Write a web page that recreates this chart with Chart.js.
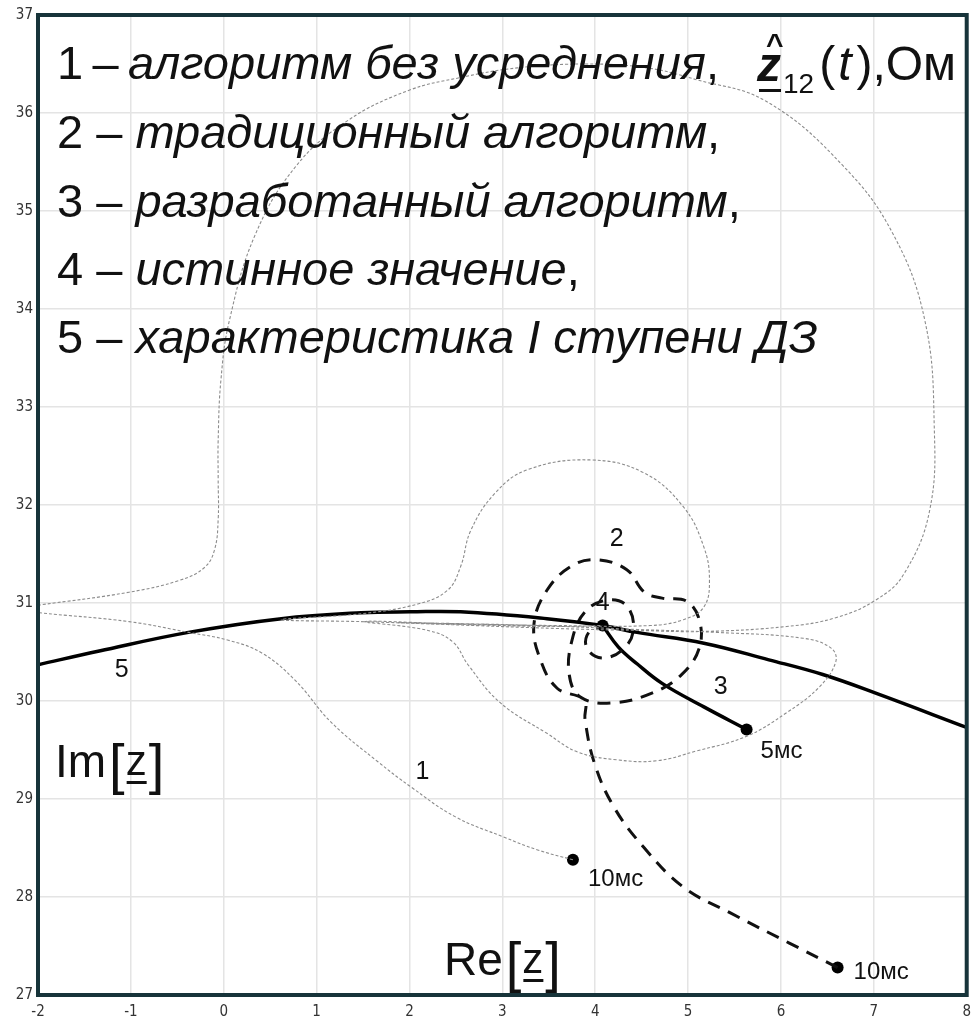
<!DOCTYPE html>
<html>
<head>
<meta charset="utf-8">
<script src="https://cdn.jsdelivr.net/npm/chart.js@4.4.1/dist/chart.umd.min.js"></script>
<style>
  html, body { margin: 0; padding: 0; background: #ffffff; }
  #wrap { position: relative; width: 979px; height: 1025px; }
</style>
</head>
<body>
<div id="wrap"><canvas id="c" width="979" height="1025"></canvas></div>
<script>
// Axis ticks (Re on x, Im on y), Ом
const xTicks = [-2, -1, 0, 1, 2, 3, 4, 5, 6, 7, 8];
const yTicks = [27, 28, 29, 30, 31, 32, 33, 34, 35, 36, 37];

// 1 – алгоритм без усреднения
const noAvgRe = [3.76, 3.38, 3.02, 2.49, 2.02, 1.66, 1.16, 0.77, 0.41, 0.05, -0.38, -1.02, -1.98, -2.30,
  -1.98, -1.02, -0.48, -0.21, -0.10, -0.06, -0.06, -0.06, -0.03, 0.06, 0.34, 0.78, 1.33, 1.99, 2.54, 3.16,
  3.91, 4.56, 5.09, 5.84, 6.67, 7.21, 7.55, 7.65, 7.60, 7.32, 7.02, 6.59, 6.06, 5.17, 4.45, 3.59, 2.41,
  1.48, 0.62,
  1.48, 2.09, 2.41, 2.55, 2.66, 2.92, 3.27, 3.94, 4.52, 4.95, 5.17, 5.23, 5.17, 4.95, 4.59, 3.59, 2.41, 1.52,
  2.20, 2.47, 2.63, 2.98, 3.48, 3.81, 4.23, 4.66, 5.09, 5.63, 6.06, 6.41, 6.59, 6.54, 6.24, 5.31, 4.45,
  3.38, 2.52, 1.88, 2.63, 3.59, 4.08];
const noAvgIm = [28.38, 28.48, 28.61, 28.82, 29.12, 29.38, 29.78, 30.21, 30.49, 30.62, 30.70, 30.81, 30.90, 30.94,
  30.98, 31.11, 31.23, 31.36, 31.54, 31.85, 32.26, 32.66, 33.28, 33.88, 34.76, 35.46, 35.92, 36.23, 36.36, 36.46,
  36.50, 36.46, 36.34, 36.12, 35.46, 34.76, 33.88, 32.82, 31.94, 31.29, 31.03, 30.85, 30.76, 30.71, 30.72, 30.74, 30.78,
  30.81, 30.83,
  30.89, 30.99, 31.13, 31.37, 31.74, 32.12, 32.36, 32.46, 32.33, 31.98, 31.57, 31.23, 30.96, 30.83, 30.77, 30.77, 30.79, 30.81,
  30.72, 30.60, 30.37, 29.98, 29.67, 29.48, 29.40, 29.39, 29.49, 29.64, 29.88, 30.14, 30.40, 30.54, 30.64, 30.70, 30.73,
  30.77, 30.79, 30.80, 30.78, 30.76, 30.77];

// 2 – традиционный алгоритм
const tradRe = [6.61, 6.09, 5.45, 4.95, 4.52, 4.20, 3.99, 3.89, 3.88,
  3.59, 3.41, 3.34, 3.48, 3.75, 4.02, 4.34, 4.53, 4.72, 4.98, 5.12, 5.12, 4.93, 4.61, 4.18, 3.84,
  3.72, 3.75, 3.89, 4.13, 4.34, 4.41, 4.29, 4.07, 3.91, 3.93, 4.08];
const tradIm = [27.28, 27.53, 27.84, 28.10, 28.51, 28.92, 29.37, 29.81, 30.01,
  30.13, 30.42, 30.78, 31.13, 31.38, 31.44, 31.34, 31.11, 31.05, 31.02, 30.83, 30.54, 30.27, 30.08, 29.98, 30.04,
  30.27, 30.62, 30.91, 31.03, 30.97, 30.72, 30.52, 30.44, 30.54, 30.70, 30.77];

// 3 – разработанный алгоритм
const devRe = [4.08, 4.25, 4.45, 4.72, 5.17, 5.63];
const devIm = [30.77, 30.55, 30.38, 30.18, 29.94, 29.71];

// 5 – характеристика I ступени ДЗ
const zoneRe = [-2.0, -1.34, -0.38, 0.62, 1.48, 2.01, 2.55, 3.48, 4.08, 4.45, 5.17, 5.87, 6.45, 7.02, 8.0];
const zoneIm = [30.37, 30.51, 30.70, 30.84, 30.90, 30.91, 30.91, 30.84, 30.77, 30.70, 30.59, 30.42, 30.27, 30.08, 29.73];

// 4 – истинное значение, and the time-stamped end points
const markRe = [4.08, 5.63, 3.76, 6.61];
const markIm = [30.77, 29.71, 28.38, 27.28];
const markText = ['', '5мс', '10мс', '10мс'];

const legendNums = ['1', '2', '3', '4', '5'];
const legendText = ['алгоритм без усреднения', 'традиционный алгоритм', 'разработанный алгоритм',
  'истинное значение', 'характеристика I ступени ДЗ'];

const pts = (xs, ys) => xs.map((x, i) => ({ x: x, y: ys[i] }));

const FONT = '"Liberation Sans", Arial, sans-serif';

// curve number labels placed next to their curves
const curveLabels = [
  { t: '1', x: 2.14, y: 29.27 },
  { t: '2', x: 4.23, y: 31.65 },
  { t: '3', x: 5.35, y: 30.14 },
  { t: '4', x: 4.08, y: 31.00 },
  { t: '5', x: -1.10, y: 30.32 }
];
const markLabelOffset = [[0, 0], [14, 22], [15, 20], [16, 5]];

const overlay = {
  id: 'overlay',
  afterDatasetsDraw(chart) {
    const { ctx, chartArea: a, scales: { x, y } } = chart;
    ctx.save();
    ctx.fillStyle = '#111';
    ctx.textBaseline = 'middle';
    ctx.textAlign = 'center';
    ctx.font = '25px ' + FONT;
    curveLabels.forEach(l => ctx.fillText(l.t, x.getPixelForValue(l.x), y.getPixelForValue(l.y)));

    ctx.textAlign = 'left';
    ctx.font = '24px ' + FONT;
    markText.forEach((t, i) => {
      if (!t) return;
      const px = x.getPixelForValue(markRe[i]) + markLabelOffset[i][0];
      const py = y.getPixelForValue(markIm[i]) + markLabelOffset[i][1];
      ctx.fillText(t, px, py);
    });

    // legend block
    ctx.textBaseline = 'alphabetic';
    const up = '47px ' + FONT, it = 'italic 47px ' + FONT;
    const base = [79, 148, 217, 285, 353];
    legendNums.forEach((n, i) => {
      let cx = 57;
      const runs = [[n, up], [i === 0 ? '\u2009–\u2009' : ' – ', up], [legendText[i], it]];
      if (i < 4) runs.push([',', up]);
      runs.forEach(([s, f]) => { ctx.font = f; ctx.fillText(s, cx, base[i]); cx += ctx.measureText(s).width; });
    });

    // ẑ12(t), Ом
    let cx = 757;
    ctx.font = 'italic bold 48px ' + FONT;
    ctx.fillText('z', cx, 81);
    const zw = ctx.measureText('z').width;
    ctx.font = 'bold 30px ' + FONT;
    ctx.fillText('^', cx + 9, 54);
    ctx.fillRect(cx + 2, 89, zw - 2, 3);
    cx += zw + 2;
    ctx.font = '28px ' + FONT;
    ctx.fillText('12', cx, 93);
    cx += ctx.measureText('12').width + 5;
    ctx.font = '48px ' + FONT;
    ctx.fillText('(', cx, 80); cx += ctx.measureText('(').width + 3;
    ctx.font = 'italic 48px ' + FONT;
    ctx.fillText('t', cx, 80); cx += ctx.measureText('t').width + 5;
    ctx.font = '48px ' + FONT;
    ctx.fillText('),Ом', cx, 80);

    // axis captions Im[z], Re[z]
    const caption = (name, x0, yb) => {
      let c = x0;
      ctx.font = '46px ' + FONT;
      ctx.fillText(name, c, yb); c += ctx.measureText(name).width + 3;
      ctx.font = '300 56px ' + FONT;
      ctx.fillText('[', c, yb + 6); c += ctx.measureText('[').width + 1;
      ctx.font = '42px ' + FONT;
      ctx.fillText('z', c, yb - 2);
      const w = ctx.measureText('z').width;
      ctx.fillRect(c + 1, yb + 4, w - 1, 3);
      c += w + 2;
      ctx.font = '300 56px ' + FONT;
      ctx.fillText(']', c, yb + 6);
    };
    caption('Im', 55, 777);
    caption('Re', 444, 975);

    // frame
    ctx.strokeStyle = '#17343a';
    ctx.lineWidth = 4;
    ctx.strokeRect(a.left, a.top, a.right - a.left, a.bottom - a.top);
    ctx.restore();
  }
};

new Chart(document.getElementById('c'), {
  type: 'scatter',
  data: {
    datasets: [
      { data: pts(noAvgRe, noAvgIm), showLine: true, borderColor: '#8c8c8c', borderWidth: 1.1,
        borderDash: [3, 2], tension: 0.4, pointRadius: 0 },
      { data: pts(zoneRe, zoneIm), showLine: true, borderColor: '#000', borderWidth: 3.5,
        tension: 0.4, pointRadius: 0 },
      { data: pts(tradRe, tradIm), showLine: true, borderColor: '#111', borderWidth: 3,
        borderDash: [13, 9], tension: 0.4, pointRadius: 0 },
      { data: pts(devRe, devIm), showLine: true, borderColor: '#000', borderWidth: 3.5,
        tension: 0.4, pointRadius: 0 },
      { data: pts(markRe, markIm), showLine: false, pointRadius: 6, pointBackgroundColor: '#000',
        pointBorderColor: '#000', pointBorderWidth: 0 }
    ]
  },
  options: {
    responsive: false,
    animation: false,
    devicePixelRatio: 1,
    layout: { padding: { top: 15, right: 8, left: 0, bottom: 0 } },
    plugins: { legend: { display: false }, tooltip: { enabled: false } },
    scales: {
      x: {
        type: 'linear', min: -2, max: 8,
        afterBuildTicks: s => { s.ticks = xTicks.map(v => ({ value: v })); },
        afterFit: s => { s.height = 30; },
        grid: { color: '#e4e4e4', lineWidth: 1.5, drawTicks: false },
        border: { display: false },
        ticks: { padding: 8, color: '#333', font: { family: '"Liberation Sans Narrow", "DejaVu Sans Condensed", sans-serif', size: 15 },
          maxRotation: 0 }
      },
      y: {
        type: 'linear', min: 27, max: 37,
        afterBuildTicks: s => { s.ticks = yTicks.map(v => ({ value: v })); },
        afterFit: s => { s.width = 38; },
        grid: { color: '#e4e4e4', lineWidth: 1.5, drawTicks: false },
        border: { display: false },
        ticks: { padding: 5, color: '#333', font: { family: '"Liberation Sans Narrow", "DejaVu Sans Condensed", sans-serif', size: 15 } }
      }
    }
  },
  plugins: [overlay]
});
</script>
</body>
</html>
